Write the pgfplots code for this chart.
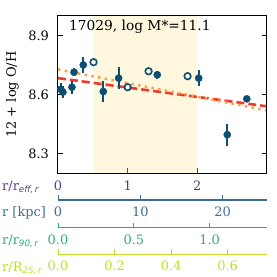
\documentclass[border=0pt]{standalone}
\usepackage{pgfplots}
\pgfplotsset{compat=1.18}
\usepackage{fontspec}
\setmainfont{DejaVu Serif}
\newfontfamily\subfont{DejaVu Sans}
\definecolor{cpur}{HTML}{5B3B8C}
\definecolor{cblue}{HTML}{3E6A96}
\definecolor{cteal}{HTML}{27AD81}
\definecolor{cyel}{HTML}{BFDF26}
\definecolor{cdat}{HTML}{0B4F74}
\definecolor{cred}{HTML}{EE3A2C}
\definecolor{corg}{HTML}{F9A04C}
\definecolor{cshade}{HTML}{FFF8DE}
\newcommand{\fs}{\fontsize{13}{15}\selectfont}
\newcommand{\sub}[1]{\raisebox{-0.3ex}{\fontsize{8.8}{9}\selectfont\subfont\itshape #1}}
\pgfplotsset{
  secax/.style={scale only axis, width=209bp, height=10bp, anchor=south west,
    axis x line*=bottom, axis y line=none, ymin=0, ymax=1, clip=false,
    tick align=inside, major tick length=5bp,
    /pgf/number format/assume math mode=true,
    xticklabel style={anchor=base, yshift=-16.3bp, font=\fs},
  },
}
\begin{document}
\begin{tikzpicture}
\useasboundingbox (-58bp,-103.7bp) rectangle (219bp,173.3bp);
\begin{axis}[at={(0,0)}, anchor=south west, scale only axis, width=209bp, height=157.6bp,
  xmin=0, xmax=3, ymin=8.2, ymax=9.0,
  xtick={0,1,2}, ytick={8.3,8.6,8.9},
  tick align=inside, xtick pos=bottom, ytick pos=both,
  major tick length=5bp,
  axis line style={black, line width=1bp},
  xtick style={cpur, line width=1bp}, ytick style={black, line width=1bp},
  /pgf/number format/assume math mode=true,
  yticklabel style={/pgf/number format/fixed, /pgf/number format/precision=1,
     /pgf/number format/fixed zerofill, xshift=-5.5bp, font=\fs},
  xticklabel style={anchor=base, yshift=-16.7bp, text=cpur, font=\fs},
  ylabel={12 + log O/H},
  ylabel style={at={(axis description cs:-0.2177,0.5)}, anchor=center, font=\fs},
  axis on top,
  clip=true,
]
\addplot[draw=none, fill=cshade] coordinates {(0.5,8.2) (0.5,9.0) (2.0,9.0) (2.0,8.2)} -- cycle;
\addplot[cred, line width=2.6bp, dash pattern=on 8bp off 4bp] coordinates {(0,8.683) (3,8.540)};
\addplot[corg, line width=2.6bp, dash pattern=on 2.4bp off 4.4bp] coordinates {(0,8.727) (3,8.519)};
% filled points with error bars
\addplot[cdat, only marks, mark=*, mark size=3.6bp, mark options={fill=cdat, draw=cdat},
  error bars/.cd, y dir=both, y explicit, error bar style={line width=1.8bp, cdat}, error mark=none]
  coordinates {
  (0.04,8.627) +- (0,0.03)
  (0.07,8.612) +- (0,0.03)
  (0.20,8.637) +- (0,0.034)
  (0.23,8.713) +- (0,0.02)
  (0.363,8.750) +- (0,0.04)
  (0.65,8.615) +- (0,0.055)
  (0.87,8.683) +- (0,0.055)
  (1.425,8.700) +- (0,0.02)
  (2.02,8.683) +- (0,0.04)
  (2.43,8.396) +- (0,0.055)
  (2.71,8.578) +- (0,0.008)
  };
% open circles
\addplot[cdat, only marks, mark=o, mark size=3.3bp, mark options={line width=1.6bp, draw=cdat, fill=none}]
  coordinates {(0.51,8.764) (1.00,8.637) (1.30,8.718) (1.86,8.693)};
\draw[cpur, line width=1.2bp] (rel axis cs:0,0) -- (rel axis cs:1,0);
\end{axis}
\node[anchor=base west, inner sep=0pt, font=\fontsize{13.8}{15}\selectfont] at (11bp,142.3bp) {17029, log M*=11.1};
% secondary axes
\begin{axis}[secax, at={(0,-26.7bp)}, xmin=0, xmax=25.38, xtick={0,10,20},
  axis line style={cblue, line width=1.2bp}, xtick style={cblue, line width=1bp},
  xticklabel style={text=cblue}]
\end{axis}
\begin{axis}[secax, at={(0,-54.4bp)}, xmin=0, xmax=1.378, xtick={0,0.5,1.0},
  axis line style={cteal, line width=1.2bp}, xtick style={cteal, line width=1bp},
  xticklabel style={text=cteal, /pgf/number format/fixed, /pgf/number format/precision=1, /pgf/number format/fixed zerofill}]
\end{axis}
\begin{axis}[secax, at={(0,-81bp)}, xmin=0, xmax=0.739, xtick={0,0.2,0.4,0.6},
  axis line style={cyel, line width=1.2bp}, xtick style={cyel, line width=1bp},
  xticklabel style={text=cyel, /pgf/number format/fixed, /pgf/number format/precision=1, /pgf/number format/fixed zerofill}]
\end{axis}
\begin{scope}[font=\fs]
\node[anchor=base west, inner sep=0pt, text=cpur] at (-56bp,-16.7bp) {r/r\sub{eff,\,r}};
\node[anchor=base west, inner sep=0pt, text=cblue] at (-56bp,-42.7bp) {r [kpc]};
\node[anchor=base west, inner sep=0pt, text=cteal] at (-56bp,-70.7bp) {r/r\sub{90,\,r}};
\node[anchor=base west, inner sep=0pt, text=cyel] at (-56bp,-97.7bp) {r/R\sub{25,\,r}};
\end{scope}
\end{tikzpicture}
\end{document}
